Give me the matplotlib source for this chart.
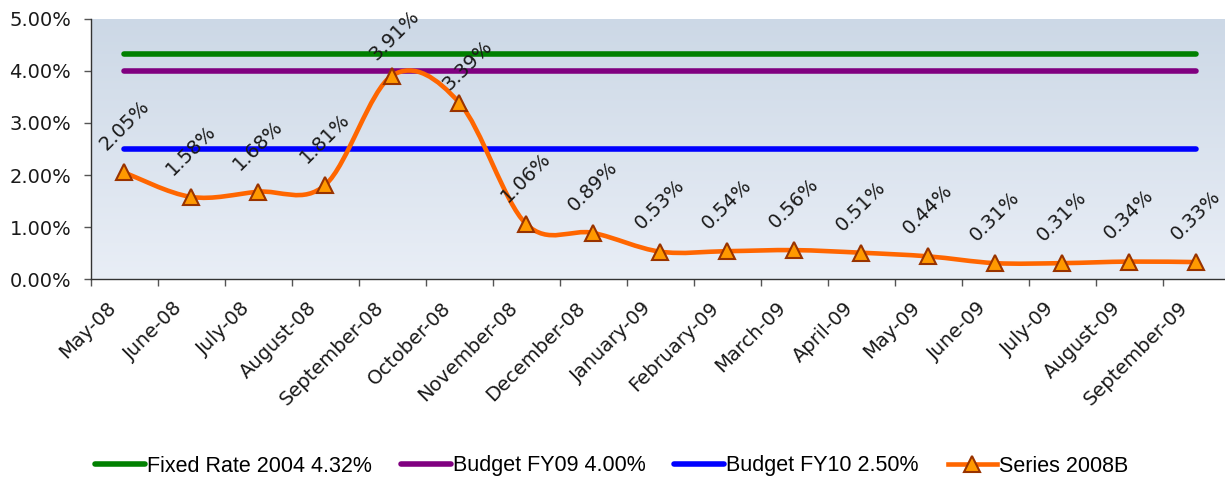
import numpy as np
import matplotlib
matplotlib.use("Agg")
import matplotlib.pyplot as plt
from matplotlib.path import Path
from matplotlib.patches import PathPatch
from matplotlib.lines import Line2D
import matplotlib.transforms as mtransforms

# ---------------- data ----------------
months = ["May-08", "June-08", "July-08", "August-08", "September-08", "October-08",
          "November-08", "December-08", "January-09", "February-09", "March-09",
          "April-09", "May-09", "June-09", "July-09", "August-09", "September-09"]
series_2008b = [2.05, 1.58, 1.68, 1.81, 3.91, 3.39, 1.06, 0.89, 0.53, 0.54, 0.56,
                0.51, 0.44, 0.31, 0.31, 0.34, 0.33]
fixed_rate_2004 = 4.32
budget_fy09 = 4.00
budget_fy10 = 2.50
y_ticks = [0, 1, 2, 3, 4, 5]

legend_labels = ["Fixed Rate 2004 4.32%", "Budget FY09 4.00%",
                 "Budget FY10 2.50%", "Series 2008B"]

# ---------------- style ----------------
C_GREEN = "#008000"
C_PURPLE = "#800080"
C_BLUE = "#0000FF"
C_ORANGE = "#FF6600"
C_MFACE = "#FF9900"
C_MEDGE = "#993300"
TXT = "#1a1a1a"

# label placement tweaks (pixels): default above point, a couple nudged as in source
label_dy_default = 47
label_nudge = {4: (2, 40), 5: (8, 37)}

plt.rcParams['font.family'] = ['DejaVu Sans']

fig = plt.figure(figsize=(12.25, 4.8), dpi=100)
W, H = 1225, 480
ax = fig.add_axes([90.7 / W, 1 - 279.3 / H, (1229.7 - 90.7) / W, (279.3 - 18.7) / H])

n = len(months)
x = np.arange(n)
y = np.array(series_2008b, dtype=float)

# gradient background
top = np.array([204, 216, 230]) / 255.0
bot = np.array([233, 238, 246]) / 255.0
t = np.linspace(0, 1, 256)[:, None]
grad = (top[None, :] * (1 - t) + bot[None, :] * t)[:, None, :]
ax.imshow(grad, extent=(0, 1, 0, 1), transform=ax.transAxes, aspect='auto',
          zorder=0, interpolation='bilinear')

# horizontal reference lines
ax.plot([x[0], x[-1]], [fixed_rate_2004] * 2, color=C_GREEN, lw=4.0,
        solid_capstyle='round', zorder=2)
ax.plot([x[0], x[-1]], [budget_fy09] * 2, color=C_PURPLE, lw=4.0,
        solid_capstyle='round', zorder=2)
ax.plot([x[0], x[-1]], [budget_fy10] * 2, color=C_BLUE, lw=4.0,
        solid_capstyle='round', zorder=2)

# smoothed line (Bezier through the data points, Excel-style smoothing)
pts = np.column_stack([x, y])
verts = [pts[0]]
codes = [Path.MOVETO]
for i in range(n - 1):
    p0 = pts[i - 1] if i > 0 else pts[i]
    p1 = pts[i]
    p2 = pts[i + 1]
    p3 = pts[i + 2] if i + 2 < n else pts[i + 1]
    c1 = p1 + (p2 - p0) / 6.0
    c2 = p2 - (p3 - p1) / 6.0
    verts += [c1, c2, p2]
    codes += [Path.CURVE4] * 3
patch = PathPatch(Path(verts, codes), facecolor='none', edgecolor=C_ORANGE,
                  lw=3.3, capstyle='round', joinstyle='round', zorder=3)
ax.add_patch(patch)

ax.plot(x, y, ls='none', marker='^', ms=12, mfc=C_MFACE, mec=C_MEDGE, mew=1.5,
        zorder=4)

# data labels
for i, (xi, yi) in enumerate(zip(x, y)):
    dx, dy = label_nudge.get(i, (0, label_dy_default))
    ax.annotate(f"{yi:.2f}%", (xi, yi), xytext=(dx, dy), textcoords='offset pixels',
                ha='center', va='center', rotation=45, fontsize=14, color=TXT,
                zorder=5)

# axes
ax.set_xlim(-0.5, n - 0.5)
ax.set_ylim(0, 5)
ax.set_yticks(y_ticks)
ax.set_yticklabels([f"{v:.2f}%" for v in y_ticks])
ax.set_xticks(np.arange(-0.5, n, 1.0))
ax.set_xticklabels([])
for s in ['top', 'right']:
    ax.spines[s].set_visible(False)
for s in ['left', 'bottom']:
    ax.spines[s].set_color('#333333')
    ax.spines[s].set_linewidth(1.0)
ax.tick_params(axis='y', direction='out', length=5, width=1, color='#555555',
               labelsize=14, labelcolor=TXT, pad=9)
ax.tick_params(axis='x', direction='out', length=5, width=1, color='#555555')

# category labels
blend = mtransforms.blended_transform_factory(ax.transData, ax.transAxes)
off = mtransforms.ScaledTranslation(-18 / 100, -19 / 100, fig.dpi_scale_trans)
for xi, lab in zip(x, months):
    ax.text(xi, 0, lab, transform=blend + off, rotation=45, rotation_mode='anchor',
            ha='right', va='top', fontsize=14, color=TXT, clip_on=False)

# legend
handles = [Line2D([], [], color=C_GREEN, lw=4.0, solid_capstyle='round'),
           Line2D([], [], color=C_PURPLE, lw=4.0, solid_capstyle='round'),
           Line2D([], [], color=C_BLUE, lw=4.0, solid_capstyle='round'),
           Line2D([], [], color=C_ORANGE, lw=3.3, marker='^', ms=11,
                  mfc=C_MFACE, mec=C_MEDGE, mew=1.5)]
fig.legend(handles, legend_labels, loc='center', bbox_to_anchor=(612 / W, 1 - 466 / H),
           ncol=4, frameon=False, handlelength=2.3, handletextpad=0.1,
           columnspacing=1.35, borderpad=0, borderaxespad=0,
           prop={'family': ['Liberation Sans'], 'size': 15.5})

fig.savefig("out.png", dpi=100)
